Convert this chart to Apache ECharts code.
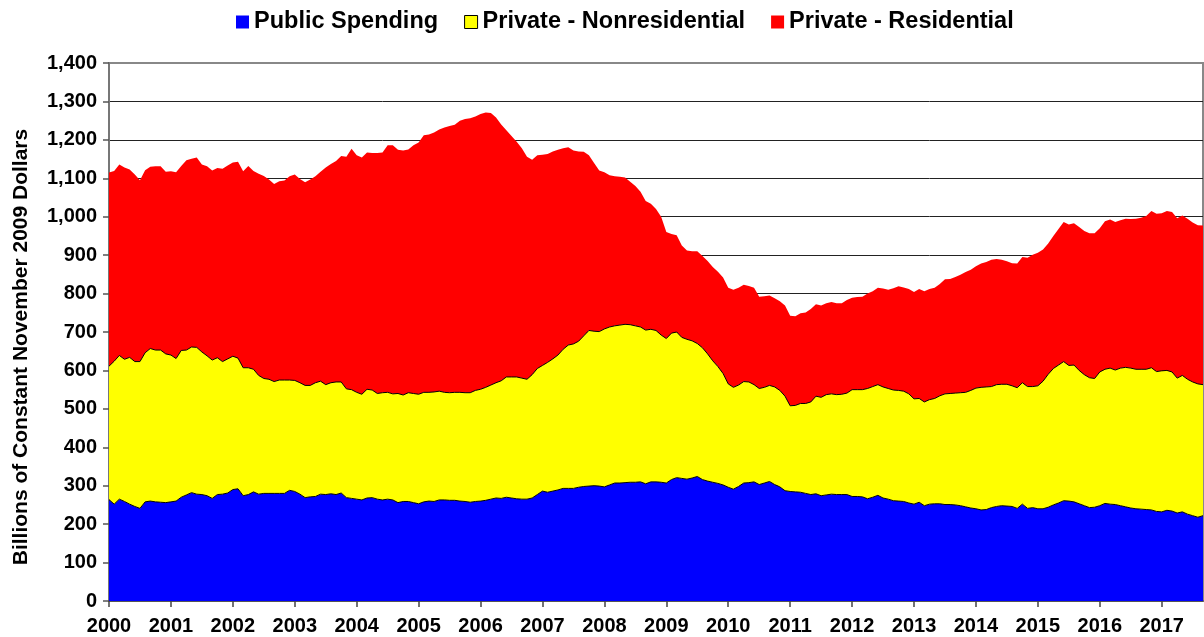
<!DOCTYPE html>
<html>
<head>
<meta charset="utf-8">
<script src="https://cdn.jsdelivr.net/npm/echarts@6/dist/echarts.min.js"></script>
<style>
html,body{margin:0;padding:0;background:#fff;}
#chart{width:1204px;height:637px;}
</style>
</head>
<body>
<div id="chart"></div>
<script>
// Monthly data, January 2000 .. September 2017 (billions of constant November 2009 dollars)
const startYear = 2000;
const seriesNames = ['Public Spending', 'Private - Nonresidential', 'Private - Residential'];

const publicSpending = [
264,252,265,259,252,246,241,258,260,258,257,256,
258,260,270,276,282,278,277,274,267,277,278,281,
290,292,274,277,284,278,280,280,280,280,280,288,
285,278,269,271,272,278,277,279,277,281,269,267,
265,263,268,269,265,263,265,263,256,259,259,256,
253,258,260,259,263,263,262,262,260,259,257,259,
260,262,265,268,267,270,268,266,265,265,268,277,
286,283,286,289,293,293,293,296,298,299,300,299,
297,302,307,307,308,309,309,310,305,310,310,309,
307,316,321,319,317,320,324,316,312,309,306,302,
296,291,298,307,308,310,303,307,311,303,297,287,
285,284,283,280,277,279,274,276,278,277,277,277,
272,272,271,266,270,275,268,265,261,260,259,255,
252,257,248,252,253,253,251,251,250,248,245,242,
240,237,238,243,246,248,247,246,241,252,241,243,
240,240,244,250,255,261,260,258,253,248,243,244,
248,254,252,251,248,245,242,240,239,238,237,233,
232,236,234,229,232,226,222,218,222
];

const privateNonresidential = [
347,372,374,370,382,377,382,388,397,395,396,387,
382,371,382,377,379,382,371,364,360,356,345,349,
347,340,333,330,319,309,299,297,291,295,295,287,
289,290,292,290,296,294,286,289,293,289,283,283,
278,275,283,280,275,279,278,276,284,277,283,284,
285,285,283,285,283,280,280,281,283,283,285,289,
291,294,297,300,306,313,315,317,315,312,321,328,
327,338,344,351,362,373,376,380,392,405,402,402,
411,411,409,411,412,410,407,403,400,397,394,383,
376,381,379,367,364,357,346,343,331,316,304,290,
269,265,264,264,262,253,250,249,250,254,251,246,
223,225,231,234,241,254,256,261,261,260,261,264,
278,278,279,287,288,288,289,288,288,288,287,284,
274,270,270,272,274,281,288,289,291,294,298,306,
314,319,319,315,317,316,317,314,314,316,317,315,
320,332,346,355,359,362,353,356,347,341,338,335,
348,349,354,350,358,363,364,363,364,365,370,364,
367,364,362,351,355,351,348,347,341
];

const privateResidential = [
504,495,497,499,489,487,472,475,473,478,478,474,
478,485,480,494,490,494,488,493,493,494,502,503,
504,511,511,525,516,525,527,520,514,517,519,530,
536,530,529,536,537,545,565,569,575,588,604,627,
617,616,616,617,626,625,643,647,634,636,633,646,
655,669,671,675,681,689,694,696,707,712,714,713,
716,715,708,690,667,642,627,612,598,579,559,555,
548,542,540,534,523,515,503,494,479,456,438,419,
408,395,389,386,382,372,364,352,336,327,316,308,
277,258,252,239,231,233,240,239,242,244,247,250,
250,254,253,252,250,252,239,237,234,231,232,236,
234,232,235,237,242,239,239,238,239,238,237,242,
239,241,242,247,248,252,256,257,265,271,270,273,
278,285,288,288,288,291,298,298,302,307,313,314,
317,322,325,330,327,324,320,319,323,327,335,343,
346,343,340,345,354,363,367,369,373,374,376,378,
374,385,387,385,385,387,388,392,394,399,408,411,
410,415,416,416,416,418,415,413,414
];

const yTicks = [0,100,200,300,400,500,600,700,800,900,1000,1100,1200,1300,1400];
const colors = ['#0000FF', '#FFFF00', '#FF0000'];

const months = [];
for (let i = 0; i < publicSpending.length; i++) {
  const y = startYear + Math.floor(i / 12);
  const m = (i % 12) + 1;
  months.push(y + '-' + (m < 10 ? '0' + m : m));
}

const FONT = '"Liberation Sans", Arial, Helvetica, sans-serif';
const chart = echarts.init(document.getElementById('chart'), null, {renderer: 'canvas'});

function areaSeries(name, data, color, withLine) {
  return {
    name: name,
    type: 'line',
    stack: 'total',
    data: data,
    showSymbol: false,
    symbol: 'none',
    smooth: false,
    lineStyle: withLine ? {color: '#000', width: 1} : {width: 0, opacity: 0},
    areaStyle: {color: color, opacity: 1},
    itemStyle: {color: color},
    emphasis: {disabled: true},
    silent: true
  };
}

chart.setOption({
  animation: false,
  backgroundColor: '#fff',
  textStyle: {fontFamily: FONT},
  legend: {
    top: 5,
    left: 231,
    itemWidth: 13,
    itemHeight: 13,
    itemGap: 26,
    icon: 'rect',
    textStyle: {fontFamily: FONT, fontSize: 23.5, fontWeight: 'bold', color: '#000'},
    data: [
      {name: seriesNames[0], itemStyle: {color: colors[0], borderWidth: 0}},
      {name: seriesNames[1], itemStyle: {color: colors[1], borderColor: '#000', borderWidth: 1}},
      {name: seriesNames[2], itemStyle: {color: colors[2], borderWidth: 0}}
    ],
    selectedMode: false
  },
  grid: {
    left: 109, right: 1, top: 63, bottom: 36,
    show: true, borderColor: '#888', borderWidth: 2, backgroundColor: 'transparent'
  },
  xAxis: {
    type: 'category',
    data: months,
    boundaryGap: false,
    axisLine: {show: true, lineStyle: {color: '#444', width: 1.5}},
    axisTick: {show: true, length: 6, interval: (i) => i % 12 === 0, lineStyle: {color: '#444', width: 1.5}},
    axisLabel: {
      interval: (i) => i % 12 === 0,
      formatter: (v) => v.slice(0, 4),
      fontFamily: FONT, fontSize: 20, fontWeight: 'bold', color: '#000', margin: 15
    },
    splitLine: {show: false}
  },
  yAxis: {
    type: 'value',
    min: yTicks[0],
    max: yTicks[yTicks.length - 1],
    interval: 100,
    axisLine: {show: true, lineStyle: {color: '#777', width: 2}},
    axisTick: {show: true, length: 6, lineStyle: {color: '#555', width: 1.5}},
    axisLabel: {
      formatter: (v) => v.toLocaleString('en-US'),
      fontFamily: FONT, fontSize: 20, fontWeight: 'bold', color: '#000', margin: 12
    },
    splitLine: {show: true, showMinLine: false, showMaxLine: false, lineStyle: {color: '#222', width: 1}}
  },
  graphic: [{
    type: 'text',
    x: 21,
    y: 347,
    rotation: Math.PI / 2,
    style: {
      text: 'Billions of Constant November 2009 Dollars',
      font: 'bold 21px ' + FONT,
      fill: '#000',
      textAlign: 'center',
      textVerticalAlign: 'middle'
    }
  }],
  series: [
    areaSeries(seriesNames[0], publicSpending, colors[0], true),
    areaSeries(seriesNames[1], privateNonresidential, colors[1], true),
    areaSeries(seriesNames[2], privateResidential, colors[2], false)
  ]
});
</script>
</body>
</html>
